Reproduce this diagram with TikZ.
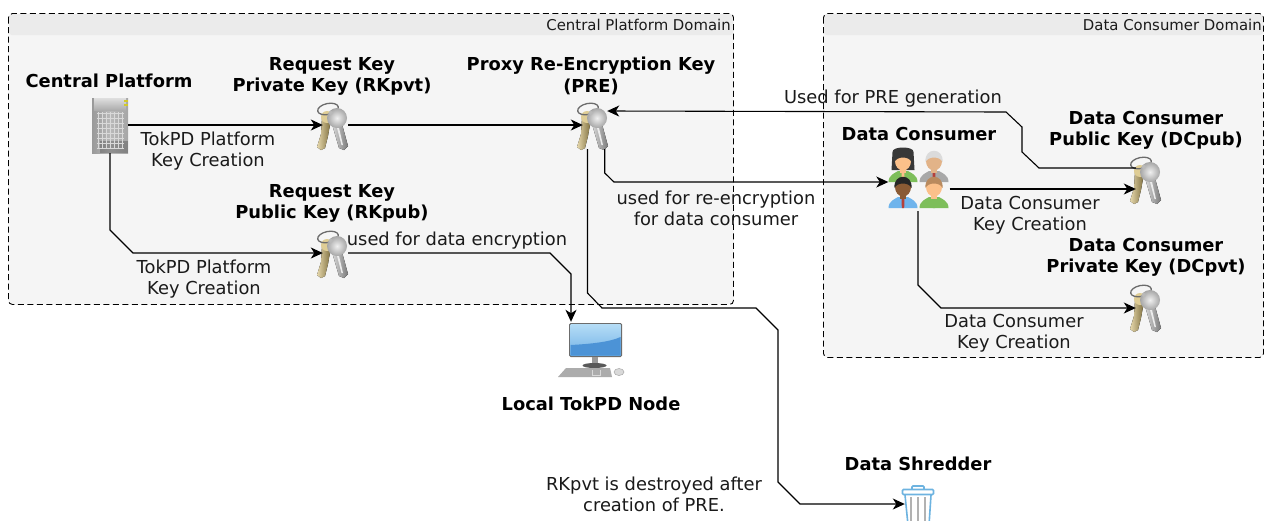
\documentclass[tikz,border=0pt]{standalone}
\usepackage{fontspec}
\setmainfont{DejaVu Sans}
\usetikzlibrary{arrows.meta,shadings}
\definecolor{txt}{HTML}{1A1A1A}
\definecolor{domfill}{HTML}{F5F5F5}
\definecolor{domhead}{HTML}{EBEBEB}
\definecolor{trashblue}{HTML}{6DB3E0}
\definecolor{keygold}{HTML}{D2B868}
\definecolor{skinA}{HTML}{FBC08A}
\definecolor{skinB}{HTML}{8A5A34}
\definecolor{shirtG}{HTML}{7DBE5A}
\definecolor{shirtB}{HTML}{6FB4EC}
\definecolor{shirtY}{HTML}{A8A8A8}
\definecolor{hairO}{HTML}{B98A5E}
\definecolor{tieR}{HTML}{B5403A}
\definecolor{scrTop}{HTML}{B4DCF6}
\definecolor{scrMid}{HTML}{72B2E6}
\definecolor{scrLow}{HTML}{4C93D6}
\tikzset{
  dombox/.style={draw=black,line width=0.9pt,dash pattern=on 6pt off 3.5pt,rounded corners=4pt},
  domtitle/.style={font=\fontsize{14.9}{17}\selectfont,text=txt,anchor=east,inner sep=0pt},
  lbl/.style={font=\fontsize{17.85}{21.3}\selectfont,text=txt,align=center,inner sep=0pt},
  ttl/.style={font=\fontsize{17.85}{21.3}\selectfont\bfseries,text=black,align=center,inner sep=0pt},
  keybox/.style={minimum width=25pt,minimum height=48pt,inner sep=0pt},
  iconbox/.style={inner sep=0pt},
  conn/.style={draw=black,line width=1.1pt,-{Stealth[length=12pt,width=11pt,inset=3.5pt]}},
  keypic/.pic={
    % gold key
    \fill[left color=keygold!55!white,right color=keygold!60!black] (-10,-9) -- (-1,-7) -- (-4,10) -- (-7,22) -- (-11,24) -- (-15,21) -- (-11,8) -- cycle;
    \fill[keygold!70!white] (-5,-9) circle (6);
    % ring
    \draw[gray!85!black,line width=1.3pt,rotate around={12:(-4,-17)}] (-4,-17) ellipse (10.5 and 5.5);
    % silver blade
    \fill[left color=gray!30,right color=gray!95!black] (0,-2) -- (10,-2) -- (16,20) -- (12,24) -- (7,22) -- cycle;
    \fill[gray!15] (5,2) -- (7,2) -- (11,19) -- (9.5,19) -- cycle;
    % silver head
    \shade[inner color=gray!12,outer color=gray!70] (5,-8) circle (10);
    \fill[gray!55] (-1,-13) circle (2);
  },
}
\newcommand{\bustfig}[6]{% x,y,skin,hair,shirt,tie
  \begin{scope}[shift={(#1,#2)}]
    \fill[#5] (-14.5,21) .. controls (-14.5,14) and (-8,12) .. (-5,10) -- (5,10) .. controls (8,12) and (14.5,14) .. (14.5,21) -- cycle;
    \fill[#6] (-1.5,10) -- (1.5,10) -- (1.2,21) -- (-1.2,21) -- cycle;
    \fill[#3] (0,0) ellipse (8 and 9.5);
    \fill[#3] (-3,6) rectangle (3,12);
    \fill[#4] (-8.5,1) .. controls (-10,-14) and (10,-14) .. (8.5,1) .. controls (6,-5) and (-6,-5) .. (-8.5,1) -- cycle;
  \end{scope}
}
\begin{document}
\begin{tikzpicture}[x=1pt,y=-1pt]
\clip (0,0) rectangle (1273,520);
\fill[white] (0,0) rectangle (1273,520);

% domains
\fill[domfill,rounded corners=4pt] (8.5,13.5) rectangle (733.5,304.5);
\fill[domfill,rounded corners=4pt] (823.5,13.5) rectangle (1263.5,357.5);
\fill[domhead,rounded corners=3pt] (9,14) rectangle (733,35);
\fill[domhead,rounded corners=3pt] (824,14) rectangle (1263,35);
\path[dombox] (8.5,13.5) rectangle (733.5,304.5);
\path[dombox] (823.5,13.5) rectangle (1263.5,357.5);
\node[domtitle] (domA) at (731,24.5) {Central Platform Domain};
\node[domtitle] (domB) at (1262,24.5) {Data Consumer Domain};

% icon anchor nodes
\node[iconbox,minimum width=36pt,minimum height=56pt] (server) at (110,125) {};
\node[keybox] (rkpvt) at (335.5,125) {};
\node[keybox] (rkpub) at (335.5,253) {};
\node[keybox] (pre) at (595.5,125) {};
\node[keybox] (dcpub) at (1148.5,189) {};
\node[keybox] (dcpvt) at (1148.5,308) {};
\node[iconbox,minimum width=61pt,minimum height=58pt] (people) at (919,182) {};
\node[iconbox,minimum width=66pt,minimum height=56pt] (node) at (591,350) {};
\node[iconbox,minimum width=28pt,minimum height=36pt] (shred) at (919,504) {};

% key images
\pic at (332,126) {keypic};
\pic at (332,254) {keypic};
\pic at (592,126) {keypic};
\pic at (1145,180) {keypic};
\pic at (1145,308) {keypic};

% server image
\shade[left color=gray!80,right color=gray!70,middle color=gray!55] (92,98) rectangle (128,153);
\shade[top color=gray!25,bottom color=gray!65] (94,98) rectangle (126,110);
\fill[black,opacity=.22] (100,141) rectangle (128,153);
\foreach \i in {0,...,7}{\draw[gray!30,line width=0.6pt] (97,{113+\i*5}) -- (124,{113+\i*5});}
\foreach \i in {0,...,6}{\draw[gray!30,line width=0.6pt] ({98+\i*4},112) -- ({98+\i*4},149);}
\fill[yellow!80!black] (124,100) rectangle (128,102);
\fill[yellow!80!black] (124,103.5) rectangle (128,105.5);

% people image
\fill[black!78] (892.5,152) .. controls (892,146) and (914,146) .. (913.5,152) -- (914.5,170) -- (891.5,170) -- cycle;
\bustfig{903}{161}{skinA}{black!78}{shirtG}{skinA}
\bustfig{934}{161}{skinA!80!gray}{gray!28}{shirtY}{tieR}
\bustfig{903}{187}{skinB}{black!85}{shirtB}{tieR}
\bustfig{934}{187}{skinA}{hairO}{shirtG}{shirtG}

% monitor image
\fill[gray!85!black,rounded corners=1.5pt] (569,323) rectangle (622,357);
\shade[top color=scrTop,bottom color=scrMid] (570.5,324.5) rectangle (620.5,355.5);
\fill[scrLow] (570.5,345) .. controls (590,344) and (610,342) .. (620.5,337) -- (620.5,355.5) -- (570.5,355.5) -- cycle;
\fill[gray!80] (592,357) rectangle (598,365);
\fill[gray!70!black] (594.5,365.5) ellipse (12 and 2.5);
\fill[gray!65] (566,368) -- (610,368) -- (612,377) -- (558,377) -- cycle;
\draw[gray!30,line width=.6pt] (592,370) -- (592,375) -- (600,375) -- (600,370);
\fill[gray!30] (619,372) ellipse (5 and 3.5);
\draw[gray!70,line width=.5pt] (619,372) ellipse (5 and 3.5);

% bin image
\draw[trashblue,line width=1.6pt,rounded corners=1pt] (902.5,489.5) rectangle (933.5,494.5);
\draw[trashblue,line width=1.6pt,rounded corners=1pt] (912,489) -- (912,486) -- (924,486) -- (924,489);
\draw[trashblue,line width=1.6pt] (905,495) -- (908,525) -- (929,525) -- (931,495);
\foreach \i in {911,918,925}{\draw[gray!60,line width=2pt] (\i,497) -- (\i,525);}

% connectors
\draw[conn] (server.east) -- (rkpvt.west);
\draw[conn] (rkpvt.east) -- (pre.west);
\draw[conn] (server.south) -- (110,230) -- (133,253) -- (rkpub.west);
\draw[conn] (rkpub.east) -- (550,253) -- (571,274) -- ([xshift=-20pt]node.north);
\draw[conn] ([xshift=9.2pt]pre.south) -- (604.7,173) -- (614,182) -- (people.west);
\draw[conn] ([xshift=-8pt]pre.south) -- (587.5,293) -- (602,308) -- (756,308) -- (778,330) -- (778,482) -- (800,504) -- (shred.west);
\draw[conn] (dcpub.west |- 0,168) -- (1039,168) -- (1022,152) -- (1022,127) -- (1006,112) -- ([xshift=-1pt]pre.east |- 0,111);
\draw[conn] (people.east |- 0,189) -- (dcpub.west);
\draw[conn] ([xshift=-1pt]people.south) -- (918,285) -- (941,308) -- (dcpvt.west);

% labels
\node[ttl] (tCP) at (109,81) {Central Platform};
\node[ttl] (tRKpvt) at (332,76.5) {Request Key\\Private Key (RKpvt)};
\node[ttl] (tPRE) at (591,76) {Proxy Re-Encryption Key\\(PRE)};
\node[ttl] (tRKpub) at (332,203.5) {Request Key\\Public Key (RKpub)};
\node[ttl] (tDC) at (919,134) {Data Consumer};
\node[ttl] (tDCpub) at (1146,130) {Data Consumer\\Public Key (DCpub)};
\node[ttl] (tDCpvt) at (1146,257.5) {Data Consumer\\Private Key (DCpvt)};
\node[ttl] (tLocal) at (591,404) {Local TokPD Node};
\node[ttl] (tShred) at (918,464) {Data Shredder};
\node[lbl] (l1) at (208,151) {TokPD Platform\\Key Creation};
\node[lbl] (l2) at (204,279) {TokPD Platform\\Key Creation};
\node[lbl] (l3) at (457,240.5) {used for data encryption};
\node[lbl] (l4) at (893,98.5) {Used for PRE generation};
\node[lbl] (l5) at (716,208) {used for re-encryption\\for data consumer};
\node[lbl] (l6) at (1030,215) {Data Consumer\\Key Creation};
\node[lbl] (l7) at (1014,333) {Data Consumer\\Key Creation};
\node[lbl] (l8) at (654,494) {RKpvt is destroyed after\\creation of PRE.};
\end{tikzpicture}
\end{document}
